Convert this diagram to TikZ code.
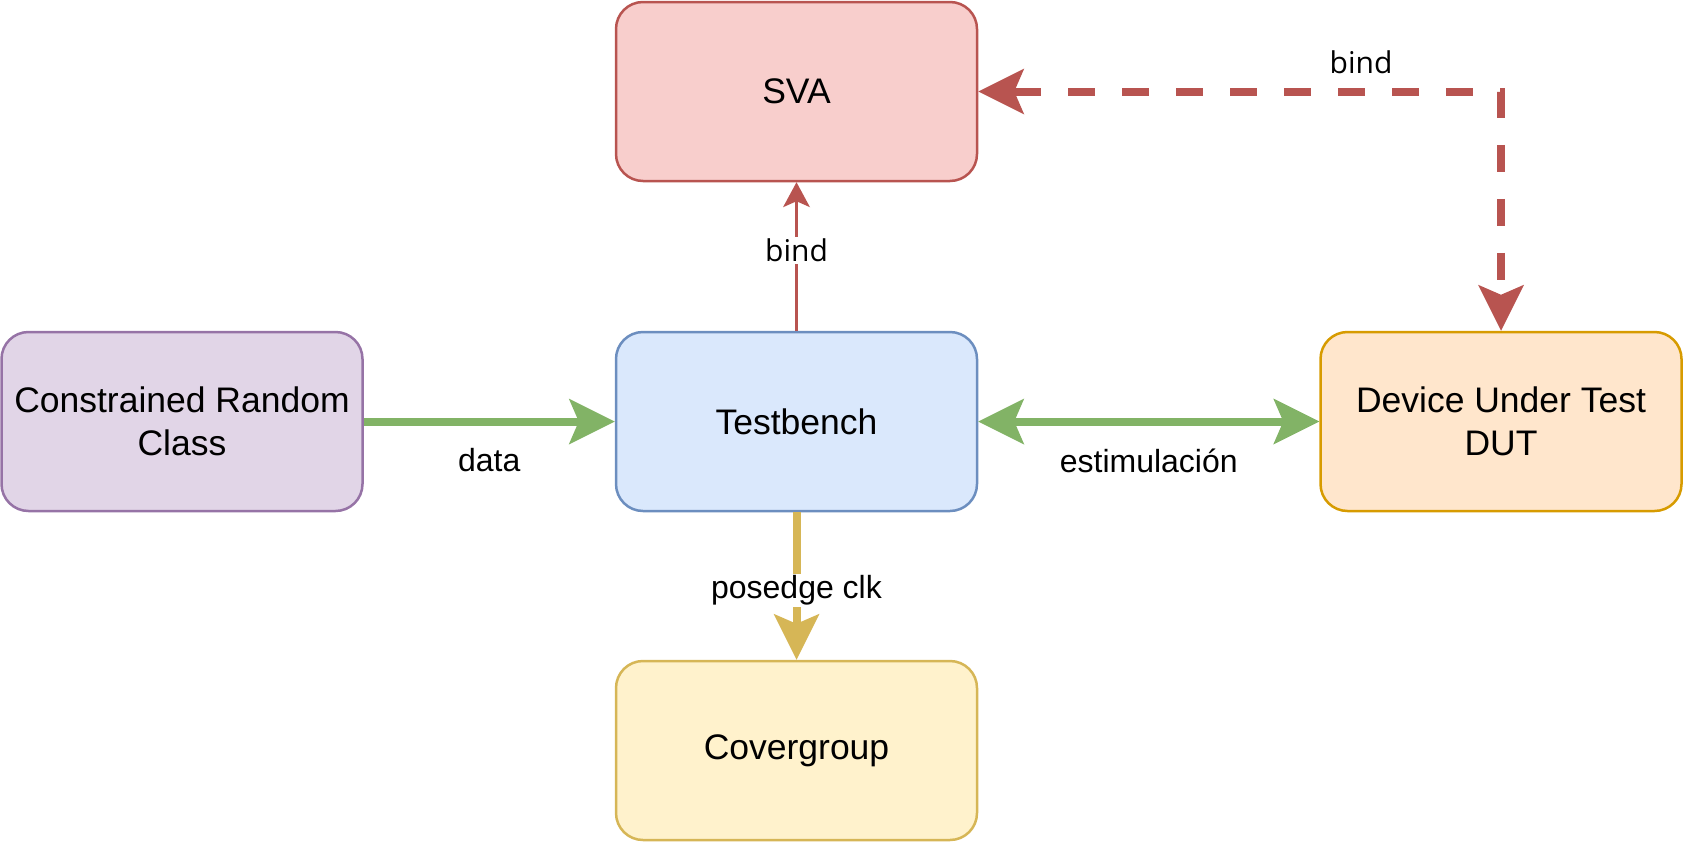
\documentclass[tikz,border=0pt]{standalone}
\usepackage{fontspec}
\setmainfont{Liberation Sans}
\newfontfamily\bindfont{Open Sans}
\usetikzlibrary{arrows.meta}
\definecolor{redS}{HTML}{B85450}
\definecolor{redF}{HTML}{F8CECC}
\definecolor{blueS}{HTML}{6C8EBF}
\definecolor{blueF}{HTML}{DAE8FC}
\definecolor{purS}{HTML}{9673A6}
\definecolor{purF}{HTML}{E1D5E7}
\definecolor{oraS}{HTML}{D79B00}
\definecolor{oraF}{HTML}{FFE6CC}
\definecolor{yelS}{HTML}{D6B656}
\definecolor{yelF}{HTML}{FFF2CC}
\definecolor{grnS}{HTML}{82B366}
\begin{document}
\begin{tikzpicture}[x=1pt,y=-1pt,
  box/.style={draw, rounded corners=27pt, line width=2.5pt, minimum width=361pt, minimum height=179pt, align=center, font=\fontsize{35.5}{43}\selectfont, inner sep=0pt},
  lbl/.style={font=\fontsize{32}{38}\selectfont, inner sep=2pt},
  bindlbl/.style={font=\bindfont\fontsize{30}{36}\selectfont, inner sep=2pt},
  thick8/.style={line width=8pt}
]
\useasboundingbox (0,0) rectangle (1683,846);
\node[box, draw=redS, fill=redF] (sva) at (796.5,91.5) {SVA};
\node[box, draw=blueS, fill=blueF] (tb) at (796.5,421.5) {Testbench};
\node[box, draw=purS, fill=purF, text depth=0pt] (crc) at (182,421.5) {Constrained Random\\Class};
\node[box, draw=oraS, fill=oraF, text depth=0pt] (dut) at (1501,421.5) {Device Under Test\\DUT};
\node[box, draw=yelS, fill=yelF] (cg) at (796.5,750.5) {Covergroup};
\coordinate (corner) at (1501,91.5);
% data
\draw[thick8, draw=grnS, -{Stealth[length=46pt,width=46pt,inset=10pt,line width=0pt]}] (crc.east) -- (tb.west)
  node[midway, lbl, yshift=-39pt] (datalbl) {data};
% estimulacion
\draw[thick8, draw=grnS, {Stealth[length=46pt,width=46pt,inset=10pt,line width=0pt]}-{Stealth[length=46pt,width=46pt,inset=10pt,line width=0pt]}] (tb.east) -- (dut.west)
  node[midway, lbl, yshift=-39pt] (estlbl) {estimulación};
% bind TB->SVA
\draw[line width=2.5pt, draw=redS, -{Stealth[length=25pt,width=27pt,inset=6pt,line width=0pt]}] (tb.north) -- (sva.south)
  node[pos=0.54, bindlbl, fill=white] (bind1) {bind};
% posedge clk
\draw[thick8, draw=yelS, -{Stealth[length=46pt,width=46pt,inset=10pt,line width=0pt]}] (tb.south) -- (cg.north)
  node[pos=0.53, lbl, fill=white] (poslbl) {posedge clk};
% dashed bind
\draw[thick8, draw=redS, dash pattern=on 27pt off 27pt, {Stealth[length=46pt,width=46pt,inset=10pt,line width=0pt]}-{Stealth[length=46pt,width=46pt,inset=10pt,line width=0pt]}] (sva.east) -- (corner) -- (dut.north);
\node[bindlbl] (bind2) at (1361,62) {bind};
\end{tikzpicture}
\end{document}
